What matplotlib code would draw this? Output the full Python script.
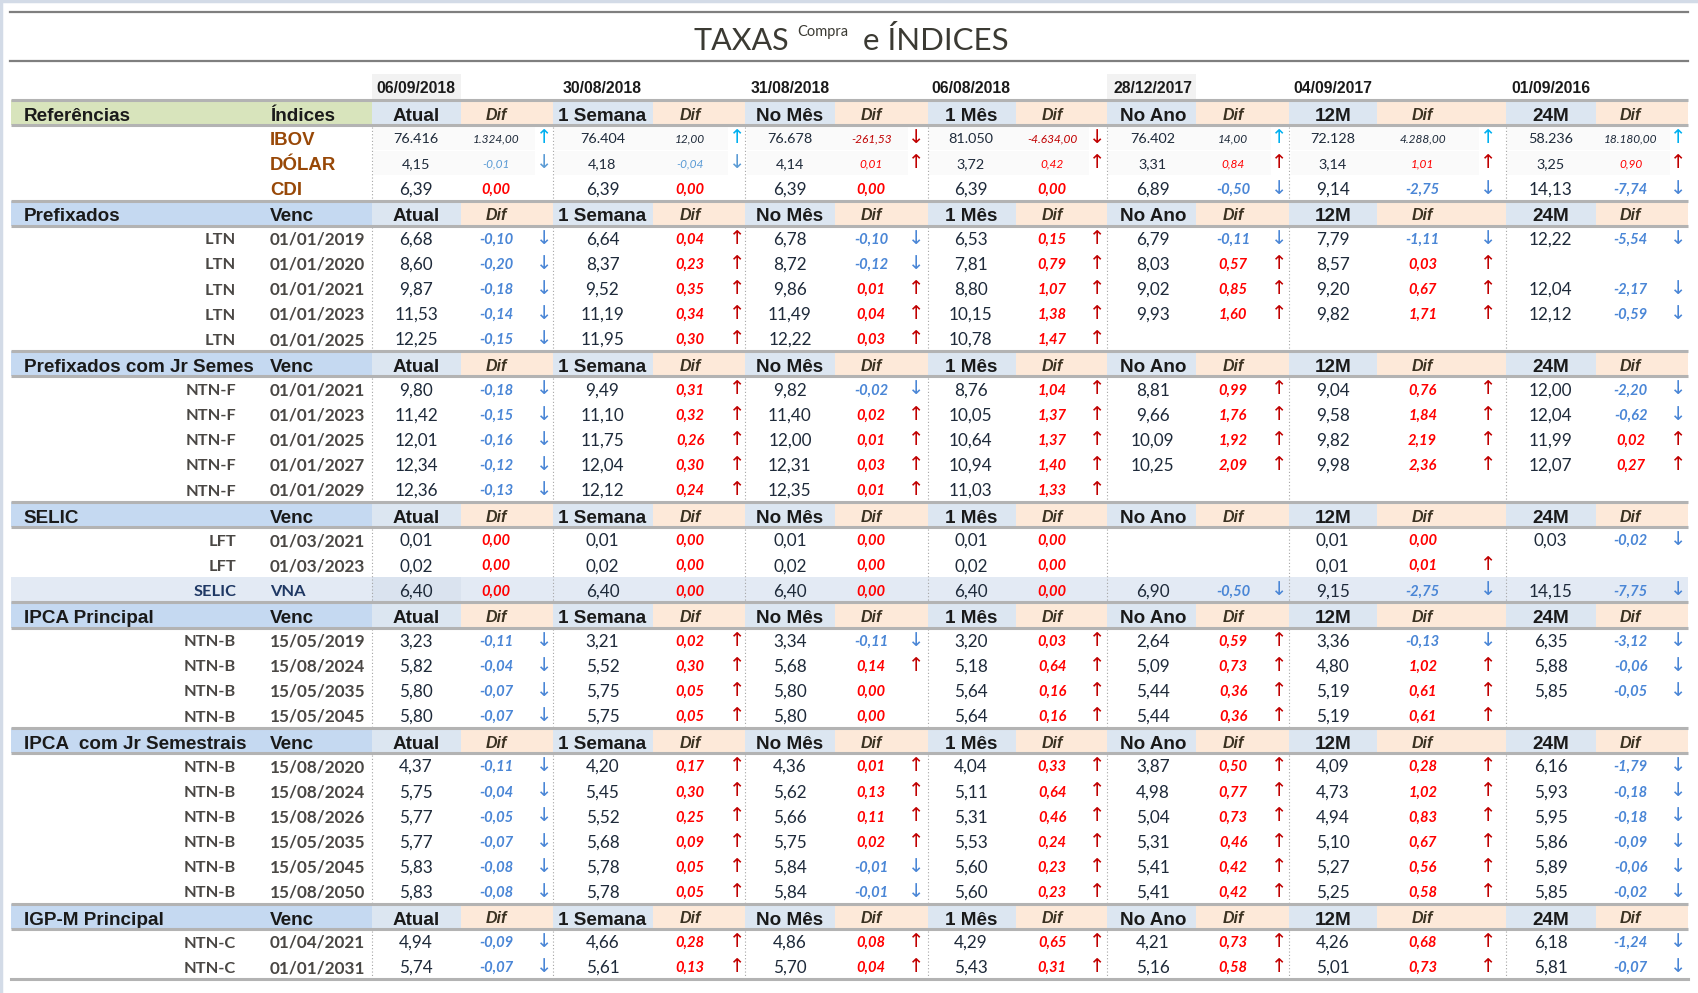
import matplotlib
matplotlib.use("Agg")
import matplotlib.pyplot as plt
from matplotlib.patches import Rectangle

# ---------------------------------------------------------------- data
title_main = "TAXAS"
title_sup = "Compra"
title_rest = "e ÍNDICES"

periods = ["Atual", "1 Semana", "No Mês", "1 Mês", "No Ano", "12M", "24M"]
ref_dates = ["06/09/2018", "30/08/2018", "31/08/2018", "06/08/2018",
             "28/12/2017", "04/09/2017", "01/09/2016"]

ref_title = "Referências"
ref_second = "Índices"
index_names = ["IBOV", "DÓLAR", "CDI"]
ibov_val = [76416, 76404, 76678, 81050, 76402, 72128, 58236]
ibov_dif = [1324.00, 12.00, -261.53, -4634.00, 14.00, 4288.00, 18180.00]
dolar_val = [4.15, 4.18, 4.14, 3.72, 3.31, 3.14, 3.25]
dolar_dif = [-0.01, -0.04, 0.01, 0.42, 0.84, 1.01, 0.90]
cdi_val = [6.39, 6.39, 6.39, 6.39, 6.89, 9.14, 14.13]
cdi_dif = [0.00, 0.00, 0.00, 0.00, -0.50, -2.75, -7.74]

pre_title = "Prefixados"
pre_names = ["LTN", "LTN", "LTN", "LTN", "LTN"]
pre_venc = ["01/01/2019", "01/01/2020", "01/01/2021", "01/01/2023", "01/01/2025"]
pre_val = [
    [6.68, 6.64, 6.78, 6.53, 6.79, 7.79, 12.22],
    [8.60, 8.37, 8.72, 7.81, 8.03, 8.57, None],
    [9.87, 9.52, 9.86, 8.80, 9.02, 9.20, 12.04],
    [11.53, 11.19, 11.49, 10.15, 9.93, 9.82, 12.12],
    [12.25, 11.95, 12.22, 10.78, None, None, None],
]
pre_dif = [
    [-0.10, 0.04, -0.10, 0.15, -0.11, -1.11, -5.54],
    [-0.20, 0.23, -0.12, 0.79, 0.57, 0.03, None],
    [-0.18, 0.35, 0.01, 1.07, 0.85, 0.67, -2.17],
    [-0.14, 0.34, 0.04, 1.38, 1.60, 1.71, -0.59],
    [-0.15, 0.30, 0.03, 1.47, None, None, None],
]

ntnf_title = "Prefixados com Jr Semes"
ntnf_names = ["NTN-F", "NTN-F", "NTN-F", "NTN-F", "NTN-F"]
ntnf_venc = ["01/01/2021", "01/01/2023", "01/01/2025", "01/01/2027", "01/01/2029"]
ntnf_val = [
    [9.80, 9.49, 9.82, 8.76, 8.81, 9.04, 12.00],
    [11.42, 11.10, 11.40, 10.05, 9.66, 9.58, 12.04],
    [12.01, 11.75, 12.00, 10.64, 10.09, 9.82, 11.99],
    [12.34, 12.04, 12.31, 10.94, 10.25, 9.98, 12.07],
    [12.36, 12.12, 12.35, 11.03, None, None, None],
]
ntnf_dif = [
    [-0.18, 0.31, -0.02, 1.04, 0.99, 0.76, -2.20],
    [-0.15, 0.32, 0.02, 1.37, 1.76, 1.84, -0.62],
    [-0.16, 0.26, 0.01, 1.37, 1.92, 2.19, 0.02],
    [-0.12, 0.30, 0.03, 1.40, 2.09, 2.36, 0.27],
    [-0.13, 0.24, 0.01, 1.33, None, None, None],
]

selic_title = "SELIC"
selic_names = ["LFT", "LFT", "SELIC"]
selic_venc = ["01/03/2021", "01/03/2023", "VNA"]
selic_val = [
    [0.01, 0.01, 0.01, 0.01, None, 0.01, 0.03],
    [0.02, 0.02, 0.02, 0.02, None, 0.01, None],
    [6.40, 6.40, 6.40, 6.40, 6.90, 9.15, 14.15],
]
selic_dif = [
    [0.00, 0.00, 0.00, 0.00, None, 0.00, -0.02],
    [0.00, 0.00, 0.00, 0.00, None, 0.01, None],
    [0.00, 0.00, 0.00, 0.00, -0.50, -2.75, -7.75],
]

ipca_title = "IPCA Principal"
ipca_names = ["NTN-B", "NTN-B", "NTN-B", "NTN-B"]
ipca_venc = ["15/05/2019", "15/08/2024", "15/05/2035", "15/05/2045"]
ipca_val = [
    [3.23, 3.21, 3.34, 3.20, 2.64, 3.36, 6.35],
    [5.82, 5.52, 5.68, 5.18, 5.09, 4.80, 5.88],
    [5.80, 5.75, 5.80, 5.64, 5.44, 5.19, 5.85],
    [5.80, 5.75, 5.80, 5.64, 5.44, 5.19, None],
]
ipca_dif = [
    [-0.11, 0.02, -0.11, 0.03, 0.59, -0.13, -3.12],
    [-0.04, 0.30, 0.14, 0.64, 0.73, 1.02, -0.06],
    [-0.07, 0.05, 0.00, 0.16, 0.36, 0.61, -0.05],
    [-0.07, 0.05, 0.00, 0.16, 0.36, 0.61, None],
]

ipcajr_title = "IPCA  com Jr Semestrais"
ipcajr_names = ["NTN-B"] * 6
ipcajr_venc = ["15/08/2020", "15/08/2024", "15/08/2026", "15/05/2035", "15/05/2045", "15/08/2050"]
ipcajr_val = [
    [4.37, 4.20, 4.36, 4.04, 3.87, 4.09, 6.16],
    [5.75, 5.45, 5.62, 5.11, 4.98, 4.73, 5.93],
    [5.77, 5.52, 5.66, 5.31, 5.04, 4.94, 5.95],
    [5.77, 5.68, 5.75, 5.53, 5.31, 5.10, 5.86],
    [5.83, 5.78, 5.84, 5.60, 5.41, 5.27, 5.89],
    [5.83, 5.78, 5.84, 5.60, 5.41, 5.25, 5.85],
]
ipcajr_dif = [
    [-0.11, 0.17, 0.01, 0.33, 0.50, 0.28, -1.79],
    [-0.04, 0.30, 0.13, 0.64, 0.77, 1.02, -0.18],
    [-0.05, 0.25, 0.11, 0.46, 0.73, 0.83, -0.18],
    [-0.07, 0.09, 0.02, 0.24, 0.46, 0.67, -0.09],
    [-0.08, 0.05, -0.01, 0.23, 0.42, 0.56, -0.06],
    [-0.08, 0.05, -0.01, 0.23, 0.42, 0.58, -0.02],
]

igpm_title = "IGP-M Principal"
igpm_names = ["NTN-C", "NTN-C"]
igpm_venc = ["01/04/2021", "01/01/2031"]
igpm_val = [
    [4.94, 4.66, 4.86, 4.29, 4.21, 4.26, 6.18],
    [5.74, 5.61, 5.70, 5.43, 5.16, 5.01, 5.81],
]
igpm_dif = [
    [-0.09, 0.28, 0.08, 0.65, 0.73, 0.68, -1.24],
    [-0.07, 0.13, 0.04, 0.31, 0.58, 0.73, -0.07],
]

sections = [
    (pre_title, pre_names, pre_venc, pre_val, pre_dif),
    (ntnf_title, ntnf_names, ntnf_venc, ntnf_val, ntnf_dif),
    (selic_title, selic_names, selic_venc, selic_val, selic_dif),
    (ipca_title, ipca_names, ipca_venc, ipca_val, ipca_dif),
    (ipcajr_title, ipcajr_names, ipcajr_venc, ipcajr_val, ipcajr_dif),
    (igpm_title, igpm_names, igpm_venc, igpm_val, igpm_dif),
]

# ---------------------------------------------------------------- layout / style
W, H = 1568.0, 916.4
XL, XR = 10, 1558
Y0, P = 104.0, 23.18
# start, value centre, blue/peach split, dif centre, arrow x, end
groups = [
    (343, 384, 425, 458, 502, 510),
    (510, 556, 603, 637, 680, 688),
    (688, 729, 771, 804, 846, 856),
    (856, 896, 938, 971, 1013, 1022),
    (1022, 1064, 1104, 1138, 1181, 1190),
    (1190, 1230, 1271, 1313, 1373, 1390),
    (1390, 1431, 1473, 1505, 1549, 1558),
]
NUM = "Lato"
HDR = "Liberation Sans"
C_NUM = "#1e2a3a"
C_LBL = "#4a4744"
C_HDR = "#1a1a1a"
C_DIFH = "#3b3222"
C_RED = "#ff0000"
C_DRED = "#c00000"
C_BLUE = "#4a86d6"
C_CYAN = "#00b0f0"
C_BROWN = "#984807"
C_NAVY = "#1f3864"
BG_GREEN = "#d8e4bc"
BG_SEC = "#c5d9f1"
BG_VAL = "#dce6f1"
BG_DIF = "#fde9d9"
LINE = "#b3b3b3"
PT = 1.282  # perceived px per point

fig = plt.figure(figsize=(16.99, 9.93), dpi=100)
ax = fig.add_axes([0, 0, 1, 1])
ax.set_xlim(0, W)
ax.set_ylim(H, 0)
ax.axis("off")


def yc(k):
    return Y0 + k * P


def txt(x, y, s, fs, family=NUM, weight="normal", style="normal", color=C_NUM, ha="center", dy=0.0):
    ax.text(x, y + 0.37 * fs * PT + dy, s, fontsize=fs, family=family, weight=weight,
            style=style, color=color, ha=ha, va="baseline")


def rect(x0, x1, y0, y1, color):
    ax.add_patch(Rectangle((x0, y0), x1 - x0, y1 - y0, facecolor=color, edgecolor="none", zorder=0))


def fmt(v, nd=2):
    s = f"{abs(v):,.{nd}f}".replace(",", "X").replace(".", ",").replace("X", ".")
    return ("-" if v < 0 else "") + s


def arrow(x, y, up, color):
    ax.text(x, y, "\u2191" if up else "\u2193", fontsize=14, family="DejaVu Sans",
            color=color, ha="center", va="center")


# window frame
ax.plot([0.6, 0.6], [0, H], color="#d3dbe7", lw=2.5)
ax.plot([0, W], [0.6, 0.6], color="#d3dbe7", lw=2.5)

# title
ax.plot([XL - 1, XR], [11, 11], color="#7f7f7f", lw=1.6)
ax.plot([XL - 1, XR], [56, 56], color="#7f7f7f", lw=1.6)
ax.text(640, 46, title_main, fontsize=22, family=NUM, color="#3b3a33", ha="left", va="baseline")
ax.text(736, 33.5, title_sup, fontsize=10.5, family=NUM, color="#3b3a33", ha="left", va="baseline")
ax.text(796, 46, title_rest, fontsize=22.5, family=NUM, color="#3b3a33", ha="left", va="baseline")

# date row
for gi, g in enumerate(groups):
    if gi in (0, 4):
        rect(g[0], g[2], 68.5, 92, "#f2f2f2")
    txt(g[1], 80.5, ref_dates[gi], 11.3, family=HDR, weight="bold", color=C_HDR)


def header_row(k, title, second, green=False):
    top, bot = yc(k) - P / 2, yc(k) + P / 2
    rect(XL, 343, top, bot, BG_GREEN if green else BG_SEC)
    for gi, g in enumerate(groups):
        rect(g[0], g[2], top, bot, BG_VAL)
        rect(g[2], g[5], top, bot, BG_DIF)
        txt(g[1], yc(k), periods[gi], 13.6, family=HDR, weight="bold", color=C_HDR, dy=1)
        txt(g[3], yc(k), "Dif", 11.5, family=HDR, weight="bold", style="italic", color=C_DIFH, dy=1)
    txt(22, yc(k), title, 13.6, family=HDR, weight="bold", color=C_HDR, ha="left", dy=1)
    txt(249, yc(k), second, 13.6, family=HDR, weight="bold", color=C_HDR, ha="left", dy=1)
    for yy in (top, bot):
        ax.plot([XL, XR], [yy, yy], color=LINE, lw=2.2, solid_capstyle="butt", zorder=3)


def dotted(k0, k1, skip=()):
    for gi, g in enumerate(groups):
        if gi in skip:
            continue
        ax.plot([g[0], g[0]], [yc(k0) - P / 2 + 1.5, yc(k1) + P / 2 - 1.5], color="#a5a5a5",
                lw=0.8, ls=(0, (1, 2)), zorder=2)


def data_row(k, vals, difs, kind="normal"):
    y = yc(k)
    for gi, g in enumerate(groups):
        v, d = vals[gi], difs[gi]
        if kind in ("ibov", "dolar"):
            rect(g[0] + 1, g[4] - 8, y - P / 2 + 0.5, y + P / 2 - 0.5, "#fafafa")
        if v is None:
            continue
        if kind == "ibov":
            txt(g[1], y, fmt(v, 0), 10.4)
        elif kind == "dolar":
            txt(g[1], y, fmt(v), 10.4)
        else:
            txt(g[1], y, fmt(v), 12.3)
        if d is None:
            continue
        if kind == "ibov":
            col = C_NUM if d >= 0 else C_DRED
            acol = C_CYAN if d >= 0 else C_DRED
            txt(g[3], y, fmt(d), 8.6, style="italic", color=col)
        elif kind == "dolar":
            col = C_RED if d >= 0 else "#5b9bd5"
            acol = C_DRED if d >= 0 else "#5b9bd5"
            txt(g[3], y, fmt(d), 8.6, style="italic", color=col)
        else:
            col = C_RED if d >= 0 else C_BLUE
            acol = C_DRED if d > 0 else C_BLUE
            txt(g[3], y, fmt(d), 10.6, weight="bold", style="italic", color=col)
        if abs(d) > 1e-9:
            arrow(g[4], y, d > 0, acol)


# ---------------------------------------------------------------- referências block
header_row(0, ref_title, ref_second, green=True)
idx_vals = [ibov_val, dolar_val, cdi_val]
idx_difs = [ibov_dif, dolar_dif, cdi_dif]
kinds = ["ibov", "dolar", "normal"]
for i in range(3):
    k = 1 + i
    txt(249, yc(k), index_names[i], 13.4, family=HDR, weight="bold", color=C_BROWN, ha="left")
    data_row(k, idx_vals[i], idx_difs[i], kinds[i])
dotted(1, 3)

# ---------------------------------------------------------------- bond sections
k = 4
for title, names, venc, vals, difs in sections:
    header_row(k, title, "Venc")
    first = k + 1
    for i in range(len(names)):
        k += 1
        y = yc(k)
        special = (venc[i] == "VNA")
        if special:
            rect(XL, XR, y - P / 2, y + P / 2, "#e3eaf4")
            rect(343, 425, y - P / 2, y + P / 2, "#dae3ef")
            txt(218, y, names[i], 11.8, weight="bold", color=C_NAVY, ha="right")
            txt(249, y, venc[i], 11.8, weight="bold", color=C_NAVY, ha="left")
        else:
            txt(218, y, names[i], 11.8, weight="bold", color=C_LBL, ha="right")
            txt(249, y, venc[i], 12.3, weight="bold", color=C_LBL, ha="left")
        data_row(k, vals[i], difs[i])
    dotted(first, k)
    k += 1

# bottom rule
ax.plot([XL, XR], [yc(k - 1) + P / 2, yc(k - 1) + P / 2], color=LINE, lw=2.2, zorder=3)

fig.savefig("out.png", dpi=100)
